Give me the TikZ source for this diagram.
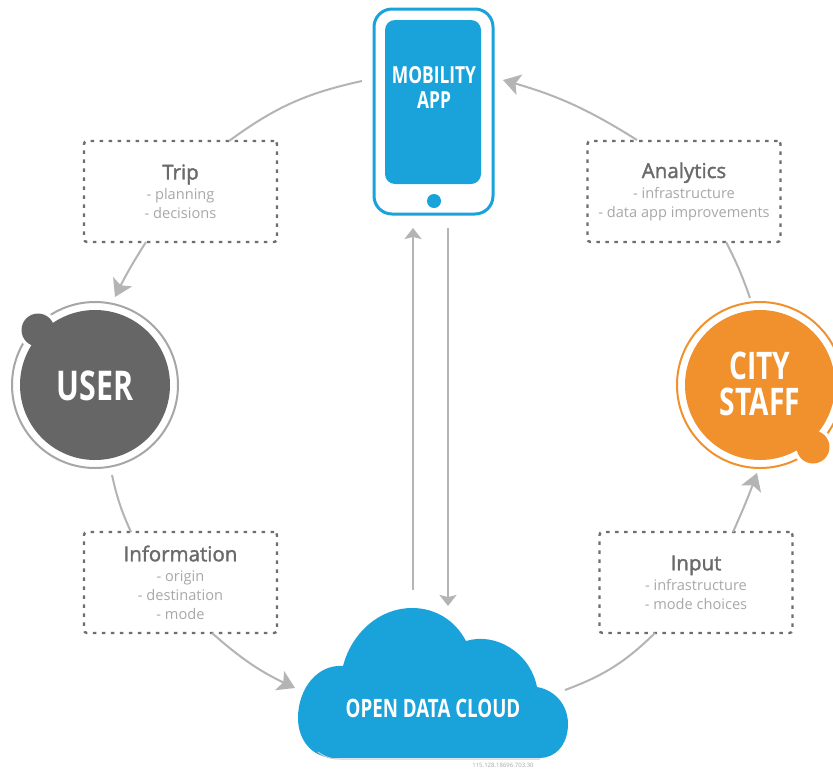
\documentclass[tikz,border=0pt]{standalone}
\usepackage{fontspec}
\setmainfont{Open Sans}
\newfontfamily\condfont[FakeStretch=0.74]{Open Sans}
\newfontfamily\headfont[FakeBold=1.6]{Open Sans}
\usetikzlibrary{arrows.meta}
\definecolor{appblue}{HTML}{1AA3DA}
\definecolor{userdark}{HTML}{666666}
\definecolor{userring}{HTML}{A6A6A6}
\definecolor{staffor}{HTML}{F0912E}
\definecolor{linegray}{HTML}{B4B4B4}
\definecolor{dashgray}{HTML}{6E6E6E}
\definecolor{headgray}{HTML}{6A6A6A}
\definecolor{subgray}{HTML}{A8A8A8}
\newcommand{\headtxt}[1]{{\headfont\fontsize{20.5}{19}\selectfont\color{headgray}#1}\\[1pt]}
\tikzset{
  infobox/.style={draw=dashgray,line width=2.4pt,dash pattern=on 3.5pt off 5.5pt,rounded corners=3pt,
    minimum width=193pt,minimum height=101pt,align=center,inner sep=0pt,text=subgray,
    font=\fontsize{14.6}{19}\selectfont},
  link/.style={draw=linegray,line width=2pt},
  arrowlink/.style={link,-{Stealth[length=17pt,width=21pt,inset=4pt]}},
  vlink/.style={link,-{Stealth[length=11pt,width=17pt,inset=2pt]}},
  whitelabel/.style={text=white,align=center,inner sep=0pt},
  disc/.style={circle,inner sep=0pt},
}
\begin{document}
\begin{tikzpicture}[x=1pt,y=-1pt]
\useasboundingbox (0,0) rectangle (833,769);
\fill[white] (0,0) rectangle (833,769);
% phone
\node[draw=appblue,line width=3pt,rounded corners=18pt,minimum width=119pt,minimum height=205pt,inner sep=0pt] (phone) at (433.5,111.5) {};
\node[fill=appblue,rounded corners=10pt,minimum width=96pt,minimum height=164pt,inner sep=0pt] (screen) at (433,102) {};
\node[fill=appblue,disc,minimum size=14pt] (button) at (434,201) {};
\node[whitelabel,font=\fontsize{23.5}{25}\condfont\bfseries] (applabel) at (434,87) {MOBILITY\\APP};
% user
\node[draw=userring,line width=2pt,disc,minimum size=166pt] (userring) at (95,385) {};
\node[fill=white,disc,minimum size=40pt] (usergap) at (38,330) {};
\node[fill=userdark,disc,minimum size=150pt] (user) at (95,385) {};
\node[fill=userdark,disc,minimum size=33pt] (userblob) at (38,330) {};
\node[whitelabel,font=\fontsize{41}{41}\condfont\bfseries] (userlabel) at (95,386) {USER};
% city staff
\node[draw=staffor,line width=2pt,disc,minimum size=166pt] (cityring) at (760,385) {};
\node[fill=white,disc,minimum size=40pt] (citygap) at (813,447) {};
\node[fill=staffor,disc,minimum size=150pt] (city) at (760,385) {};
\node[fill=staffor,disc,minimum size=33pt] (cityblob) at (813,447) {};
\node[whitelabel,font=\fontsize{38}{35.5}\condfont\bfseries] (citylabel) at (760,384) {CITY\\STAFF};
% cloud
\fill[appblue] (335,758) .. controls (312,758) and (298,740) .. (298,718)
  .. controls (298,688) and (318,664) .. (343,666)
  .. controls (352,632) and (380,608) .. (412,608)
  .. controls (435,608) and (455,620) .. (466,641)
  .. controls (495,632) and (530,652) .. (537,687)
  .. controls (555,690) and (568,705) .. (568,724)
  .. controls (568,745) and (555,758) .. (540,758) -- cycle;
\draw[userring!60,line width=1pt] (318,752) .. controls (325,757) and (330,759) .. (340,759) -- (540,759);
\node[whitelabel,font=\fontsize{25.3}{25}\condfont\bfseries] (cloud) at (433,708) {OPEN DATA CLOUD};
\node[text=subgray,inner sep=0pt,font=\fontsize{6}{6}\selectfont] (stamp) at (503,765) {115.128.18696.703.30};
% boxes
\node[infobox] (trip) at (180.5,191.5) {\headtxt{Trip}- planning\\- decisions};
\node[infobox] (info) at (180.5,582.5) {\headtxt{Information}- origin\\- destination\\- mode};
\node[infobox] (analytics) at (684,191.5) {\headtxt{Analytics}- infrastructure\\- data app improvements};
\node[infobox] (input) at (696,582.5) {\headtxt{Input}- infrastructure\\- mode choices};
% free connector ends
\coordinate (phoneL) at (362,81);
\coordinate (phoneR) at (503,80);
\coordinate (tripT) at (229,141);
\coordinate (tripB) at (146,242);
\coordinate (userT) at (115,297);
\coordinate (userB) at (112,475);
\coordinate (infoT) at (131,532);
\coordinate (infoB) at (212,633);
\coordinate (cloudL) at (295,688);
\coordinate (cloudR) at (565,690);
\coordinate (inputB) at (655,633);
\coordinate (inputT) at (733,532);
\coordinate (cityB) at (757,473);
\coordinate (cityT) at (750,298);
\coordinate (anaB) at (726,242);
\coordinate (anaT) at (637,140);
\coordinate (upS) at (413,590);
\coordinate (upE) at (413,228);
\coordinate (dnS) at (448,228);
\coordinate (dnE) at (448,606);
% connectors
\draw[link] (tripT) to[bend left=12] (phoneL);
\draw[arrowlink] (tripB) to[bend right=3] (userT);
\draw[link] (userB) to[bend right=6] (infoT);
\draw[arrowlink] (infoB) to[bend right=8] (cloudL);
\draw[link] (cloudR) to[bend right=12] (inputB);
\draw[arrowlink] (inputT) to[bend right=2] (cityB);
\draw[link] (cityT) to[bend right=4] (anaB);
\draw[arrowlink] (anaT) to[bend right=8] (phoneR);
\draw[vlink] (upS) -- (upE);
\draw[vlink] (dnS) -- (dnE);
\end{tikzpicture}
\end{document}
